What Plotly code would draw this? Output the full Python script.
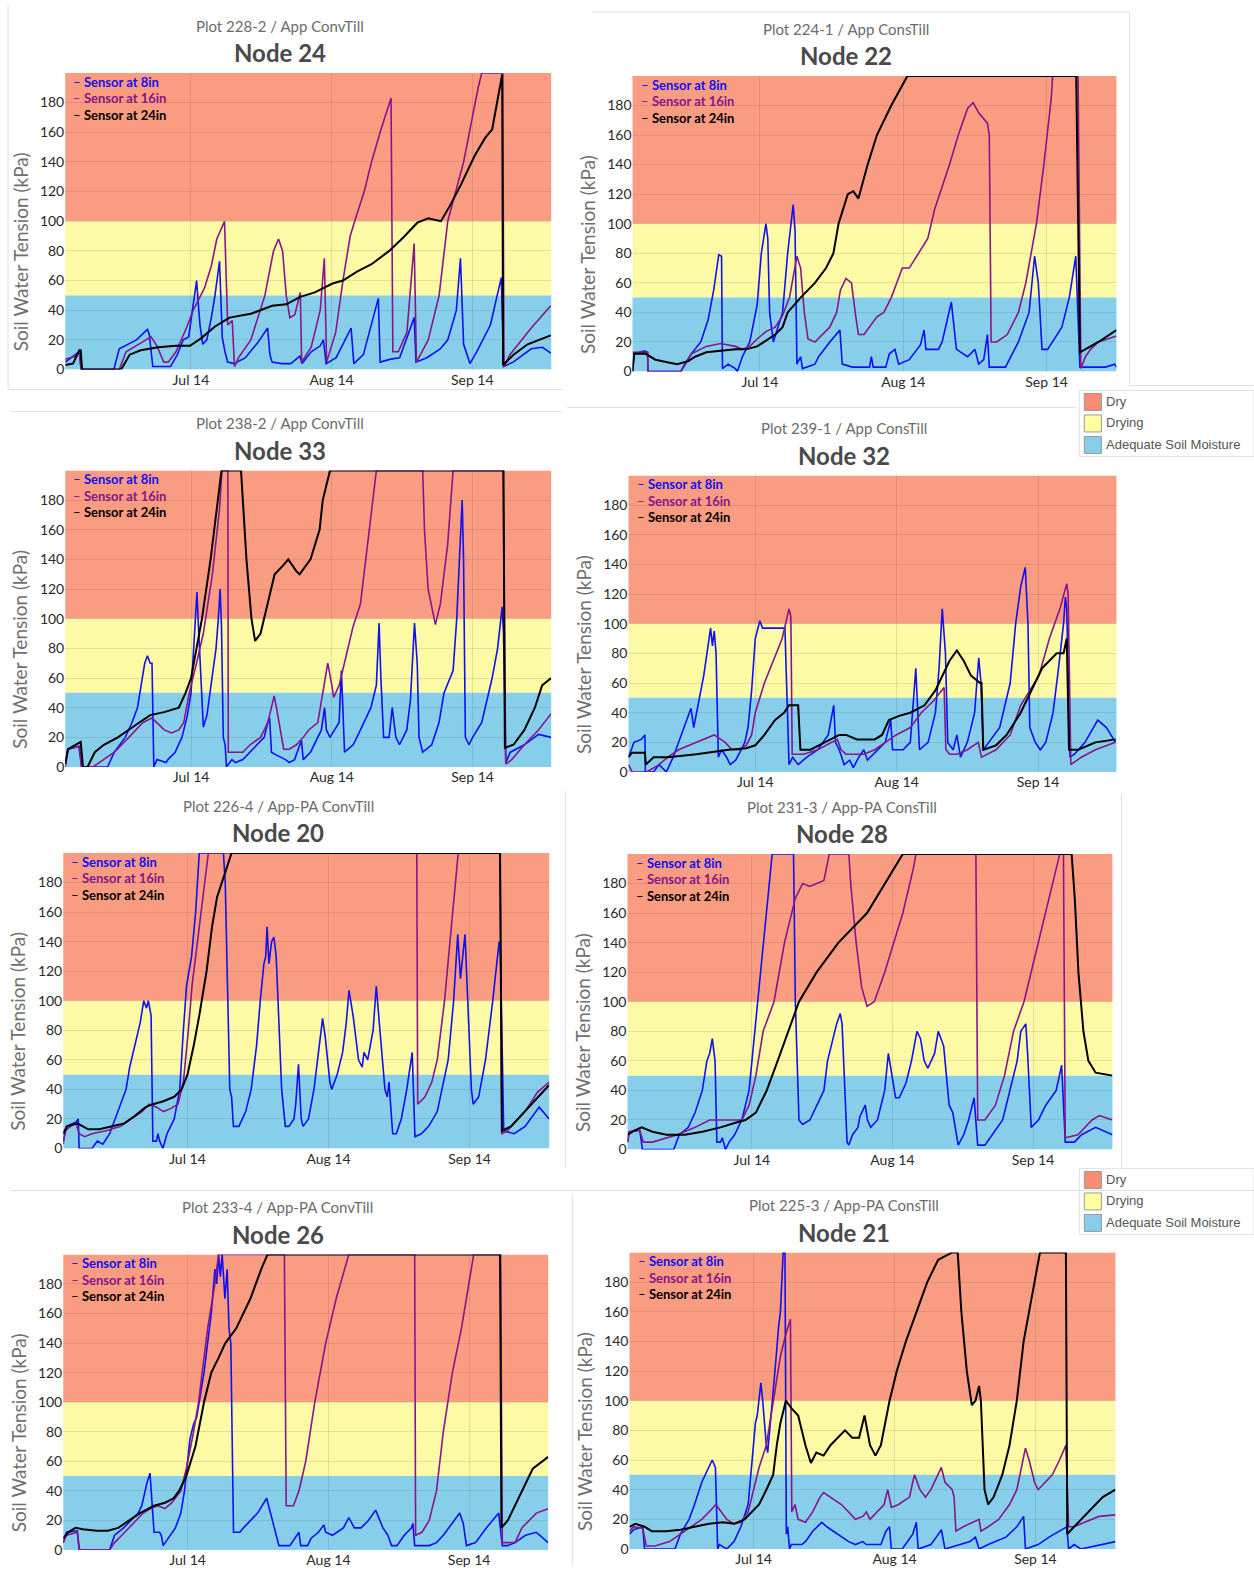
import pandas as pd
import plotly.graph_objects as go

# ---------------- data (days relative to Jul 14, kPa) ----------------
BASE_DATE = "2017-07-14"
TICK_DAYS = [0, 31, 62]
TICK_TEXT = ["Jul 14", "Aug 14", "Sep 14"]
Y_TICKS = [0, 20, 40, 60, 80, 100, 120, 140, 160, 180]
SENSORS = ["Sensor at 8in", "Sensor at 16in", "Sensor at 24in"]
SENSOR_COLORS = ["#1010f0", "#86168a", "#000000"]
ZONE_NAMES = ["Dry", "Drying", "Adequate Soil Moisture"]
ZONE_LIMITS = [(100, 200), (50, 100), (0, 50)]
ZONE_COLORS = ["#f99c81", "#fdfaa5", "#87ceea"]
SWATCH_COLORS = ["#fa8c74", "#ffff9e", "#86cdea"]

SUBTITLES = ["Plot 228-2 / App ConvTill", "Plot 224-1 / App ConsTill",
             "Plot 238-2 / App ConvTill", "Plot 239-1 / App ConsTill",
             "Plot 226-4 / App-PA ConvTill", "Plot 231-3 / App-PA ConsTill",
             "Plot 233-4 / App-PA ConvTill", "Plot 225-3 / App-PA ConsTill"]
NODES = ["Node 24", "Node 22", "Node 33", "Node 32", "Node 20", "Node 28", "Node 26", "Node 21"]
X_RANGES = [(-27.7, 79.4), (-27.55, 77.1), (-27.7, 79.3), (-27.8, 79.2),
            (-27.3, 79.5), (-27.4, 79.5), (-27.4, 79.4), (-27.3, 79.6)]

N24_8 = [(-27.7,5),(-25.5,10),(-24.6,12),(-24.2,0),(-17.0,0),(-15.8,14),(-14.5,16),(-12.0,20),(-9.6,27),(-9.2,24),(-8.4,2),(-4.5,2),(-3.0,10),(-1.7,20),(-0.5,22),(0.3,40),(1.25,60),(1.6,45),(2.0,30),(2.6,17),(3.5,20),(4.5,35),(5.3,50),(6.3,73),(6.9,22),(7.5,12),(8.1,5),(9.5,4),(12.0,8),(14.7,18),(16.9,28),(17.4,10),(17.9,5),(20.0,4),(22.0,4),(24.0,9),(24.5,4),(26.5,12),(28.5,16),(29.2,20),(29.8,4),(32.0,8),(35.3,28),(35.9,4),(38.0,10),(41.3,48),(41.7,5),(44.0,7),(46.0,8),(49.2,35),(49.6,5),(52.0,8),(55.0,14),(56.6,20),(58.5,40),(59.4,75),(60.1,17),(61.5,4),(63.0,12),(66.0,30),(68.4,62),(68.9,2),(71.0,5),(75.0,14),(77.5,15),(79.3,11)]
N24_16 = [(-27.7,7),(-25.5,9),(-24.6,12),(-24.2,0),(-15.8,0),(-14.3,12),(-11.0,18),(-8.8,22),(-7.5,16),(-6.0,5),(-5.0,5),(-3.3,12),(-1.0,28),(0.5,40),(3.0,55),(4.5,70),(5.7,88),(7.4,100),(7.8,60),(8.1,30),(9.1,33),(9.6,2),(10.5,8),(13.2,20),(16.3,50),(18.2,80),(19.3,88),(20.2,80),(21.0,50),(21.8,35),(22.9,37),(23.5,45),(24.1,52),(24.4,5),(26.5,15),(28.5,40),(29.4,75),(29.9,5),(31.9,25),(33.5,60),(35.1,90),(36.6,105),(38.2,120),(39.8,140),(41.7,160),(44.1,183),(44.5,12),(45.7,12),(47.6,25),(49.2,85),(49.7,5),(52.3,20),(54.7,50),(56.6,100),(60.1,140),(63.3,190),(64.1,200),(68.7,200),(69.0,2),(70.3,10),(75.0,28),(79.3,43)]
N24_24 = [(-27.7,3),(-26.0,4),(-24.6,13),(-24.3,13),(-24.0,0),(-15.4,0),(-13.5,10),(-11.1,13),(-7.2,15),(-3.3,16),(-0.2,16),(2.2,21),(5.3,29),(8.5,35),(13.2,37.6),(17.9,43),(21.0,44),(24.1,49),(27.3,52),(31.2,58),(33.5,60),(36.6,66),(39.8,71),(43.7,80),(46.8,89),(49.9,99),(52.3,102),(55.1,100),(57.0,110),(59.4,124),(62.5,144),(64.8,156),(66.4,162),(68.0,190),(68.6,199),(68.8,3),(71.1,10),(74.2,17),(79.3,23)]

N22_8 = [(-27.55,0),(-27.2,12),(-25.0,14),(-24.3,13),(-24.2,0),(-17.1,0),(-14.8,12),(-12.8,20),(-11.2,35),(-10.0,55),(-8.9,79),(-8.3,78),(-8.1,2),(-6.9,5),(-5.3,2),(-4.9,0),(-3.8,10),(-2.2,20),(-0.6,45),(0.3,80),(1.3,100),(1.7,90),(2.1,40),(2.9,20),(4.9,40),(6.0,80),(7.2,113),(7.6,95),(8.0,5),(8.8,10),(9.2,2),(11.9,5),(12.7,10),(15.1,20),(17.3,28),(17.8,5),(20.0,3),(23.7,3),(24.1,10),(24.5,3),(27.2,3),(28.0,12),(29.2,15),(30.0,5),(32.3,8),(34.7,18),(35.5,28),(35.9,15),(38.6,15),(39.4,20),(41.4,47),(42.5,15),(44.9,10),(46.5,15),(47.3,5),(48.4,8),(49.2,25),(49.6,3),(53.1,3),(55.9,20),(58.2,40),(59.4,78),(60.2,60),(61.0,15),(62.2,15),(65.3,30),(66.9,50),(68.3,78),(69.2,3),(74.7,3),(76.7,5),(77.1,3)]
N22_16 = [(-27.55,13),(-24.3,13),(-24.2,0),(-17.1,0),(-16.3,5),(-14.8,12),(-11.6,17),(-8.5,19),(-5.3,17),(-3.8,15),(-2.2,17),(-0.6,22),(1.3,27),(3.3,30),(4.9,38),(6.4,50),(8.0,78),(8.8,70),(9.6,40),(10.4,22),(11.9,20),(13.5,25),(15.1,30),(16.6,40),(17.4,55),(18.6,63),(19.8,60),(20.6,40),(21.3,25),(22.5,25),(23.7,30),(25.3,37),(26.8,40),(28.4,50),(29.6,60),(30.8,70),(32.3,70),(33.9,78),(36.3,90),(37.8,110),(41.0,140),(42.9,160),(44.9,178),(46.1,182),(47.3,175),(49.2,168),(49.6,160),(50.0,20),(51.2,20),(53.5,25),(55.9,40),(57.5,60),(59.8,100),(61.4,140),(63.0,185),(63.3,200),(68.8,200),(69.4,2),(70.4,10),(71.5,15),(73.2,20),(77.1,24)]
N22_24 = [(-27.55,0),(-27.2,12),(-24.7,12),(-22.6,8),(-19.5,6),(-17.9,5),(-15.5,7),(-14.0,10),(-11.6,13),(-8.5,14),(-5.3,15),(-3.0,15),(-0.6,17),(0.9,20),(3.3,25),(4.9,30),(6.0,40),(8.8,50),(11.9,60),(14.3,70),(15.9,80),(17.0,100),(19.0,120),(20.2,122),(21.3,117),(23.3,140),(25.3,160),(28.4,180),(31.9,200),(68.4,200),(69.2,13),(73.2,20),(77.1,28)]

N33_8 = [(-27.7,3),(-27.1,12),(-24.7,14),(-24.1,0),(-18.4,0),(-16.9,10),(-14.5,20),(-13.0,30),(-11.8,40),(-11.0,55),(-10.2,70),(-9.6,75),(-9.0,70),(-8.6,70),(-8.2,0),(-7.5,5),(-5.5,3),(-5.1,5),(-3.5,10),(-2.0,20),(-0.8,35),(0.0,50),(1.0,100),(1.3,118),(1.7,90),(2.4,40),(2.7,27),(3.5,35),(4.7,60),(5.5,80),(6.0,100),(6.4,120),(6.7,95),(7.1,20),(7.5,15),(7.8,0),(9.0,5),(9.8,3),(11.4,5),(13.0,10),(14.5,15),(16.1,20),(16.9,30),(17.3,33),(17.7,10),(18.8,8),(20.8,5),(21.6,3),(22.8,5),(23.9,15),(24.3,18),(24.7,5),(26.3,10),(28.7,25),(29.4,40),(29.8,25),(30.6,20),(32.6,30),(33.1,65),(33.8,10),(35.7,15),(37.3,25),(39.6,40),(40.8,55),(41.4,97),(41.8,60),(42.4,20),(43.6,20),(43.9,30),(44.3,40),(45.1,20),(45.9,15),(47.5,25),(48.3,45),(49.2,97),(49.8,70),(50.2,20),(51.0,10),(53.0,15),(54.6,30),(55.7,50),(57.7,65),(58.5,100),(59.7,180),(60.0,140),(60.4,20),(61.2,15),(62.0,20),(64.0,30),(66.3,60),(67.5,80),(68.5,108),(68.8,90),(69.3,3),(70.3,10),(73.4,15),(76.5,22),(79.3,20)]
N33_16 = [(-27.7,0),(-27.1,12),(-24.6,14),(-24.1,0),(-21.6,0),(-19.2,5),(-16.9,10),(-13.7,20),(-10.6,30),(-8.6,33),(-7.5,30),(-5.9,25),(-4.3,23),(-2.7,25),(-1.6,30),(-0.4,50),(1.2,70),(2.7,90),(4.7,130),(6.3,175),(6.8,200),(8.1,200),(8.2,10),(11.4,10),(13.0,15),(15.3,20),(16.9,30),(18.3,48),(18.8,40),(19.6,25),(20.4,12),(21.6,12),(23.2,15),(24.7,20),(25.9,25),(27.9,30),(29.0,50),(30.1,70),(31.0,55),(31.4,47),(32.6,55),(34.5,80),(35.7,95),(37.3,110),(38.9,150),(40.8,200),(51.0,200),(51.4,160),(52.2,120),(53.4,100),(53.8,96),(54.9,110),(56.5,150),(57.7,200),(68.7,200),(69.3,2),(70.6,5),(73.4,15),(76.5,25),(79.3,36)]
N33_24 = [(-27.7,2),(-27.1,12),(-24.3,17),(-23.8,0),(-22.8,0),(-21.2,10),(-19.2,15),(-16.1,20),(-11.4,30),(-9.0,35),(-5.9,37),(-2.7,40),(-1.2,50),(0.0,60),(1.2,80),(2.4,100),(4.3,140),(5.9,180),(6.7,200),(11.0,200),(11.4,180),(12.2,140),(13.3,100),(14.1,85),(15.3,90),(16.9,110),(18.4,130),(20.0,135),(21.4,140),(23.2,132),(23.9,130),(26.3,140),(28.3,160),(29.0,180),(30.6,200),(68.8,200),(69.1,13),(71.0,15),(73.4,25),(75.7,40),(77.3,55),(79.3,60)]

N32_8 = [(-27.8,10),(-26.6,20),(-25.0,22),(-24.2,25),(-24.1,0),(-22.3,0),(-21.1,5),(-19.5,0),(-18.0,10),(-16.8,20),(-15.6,30),(-14.5,40),(-14.1,43),(-13.5,30),(-12.9,40),(-11.7,60),(-11.3,65),(-10.6,80),(-9.8,97),(-9.4,85),(-9.0,95),(-8.6,80),(-8.1,10),(-7.4,15),(-6.3,10),(-5.5,5),(-4.3,8),(-3.1,15),(-2.3,20),(-1.6,30),(-0.8,55),(0.0,90),(0.4,95),(1.0,102),(1.6,97),(6.5,97),(7.4,5),(8.2,10),(9.4,5),(11.3,10),(13.7,15),(16.0,25),(17.2,45),(17.6,20),(18.4,15),(19.5,5),(20.7,8),(21.5,3),(22.7,10),(23.8,15),(24.6,8),(27.0,15),(28.5,20),(29.7,35),(30.1,15),(32.4,15),(34.0,20),(35.2,70),(36.0,15),(37.9,20),(39.5,40),(40.3,70),(41.0,110),(41.7,80),(42.2,20),(43.4,15),(44.2,25),(45.0,10),(46.5,20),(48.1,40),(49.0,77),(49.5,60),(50.0,15),(51.2,20),(53.6,30),(55.9,60),(57.1,100),(58.2,125),(59.2,138),(59.8,100),(60.2,30),(61.4,20),(62.5,15),(63.7,20),(65.3,40),(66.5,70),(67.6,100),(68.0,118),(68.3,110),(69.0,10),(70.0,12),(72.3,20),(75.1,35),(77.0,30),(79.0,20)]
N32_16 = [(-27.8,5),(-27.0,0),(-23.8,0),(-21.1,5),(-19.2,10),(-16.8,15),(-12.9,20),(-11.3,22),(-9.0,25),(-6.6,20),(-5.1,15),(-3.5,15),(-2.0,18),(-0.8,25),(0.0,40),(2.0,60),(5.9,90),(7.4,110),(7.8,105),(8.1,12),(10.6,12),(13.7,15),(16.8,20),(18.0,22),(18.8,15),(19.9,12),(23.8,12),(26.2,15),(28.5,20),(30.9,25),(34.0,30),(36.4,40),(39.1,48),(41.4,57),(41.8,15),(42.6,12),(44.2,12),(46.5,15),(48.9,20),(49.6,10),(52.8,15),(55.9,25),(58.2,45),(62.2,65),(64.5,90),(66.8,110),(68.3,127),(68.6,120),(69.2,5),(71.5,10),(74.6,15),(79.0,20)]
N32_24 = [(-27.8,10),(-27.0,13),(-24.2,13),(-24.0,5),(-22.3,10),(-19.2,10),(-12.9,12),(-5.9,15),(-2.0,16),(0.0,18),(2.0,25),(4.3,35),(6.3,40),(7.4,45),(9.4,45),(9.9,15),(12.1,15),(15.2,20),(18.4,25),(19.9,25),(22.3,22),(26.2,22),(27.8,25),(29.3,35),(31.7,38),(34.0,40),(37.1,45),(39.5,55),(41.0,65),(42.6,75),(44.2,82),(45.7,75),(47.3,65),(49.3,60),(49.6,60),(50.0,15),(52.8,18),(55.1,25),(58.2,40),(60.6,55),(62.9,70),(66.1,80),(67.6,80),(68.3,90),(68.8,15),(70.8,15),(74.6,20),(79.0,22)]

N20_8 = [(-27.3,5),(-26.5,15),(-24.5,18),(-24.0,20),(-23.8,0),(-21.0,0),(-19.8,5),(-18.6,3),(-17.1,10),(-15.9,20),(-14.7,30),(-13.5,40),(-12.7,55),(-11.6,70),(-10.4,85),(-9.6,100),(-9.0,95),(-8.6,100),(-8.0,90),(-7.6,5),(-6.8,5),(-6.5,10),(-6.1,5),(-5.4,0),(-4.5,10),(-2.9,20),(-1.7,40),(-0.9,80),(-0.2,110),(0.9,130),(1.8,160),(2.6,200),(7.9,200),(8.3,180),(8.7,120),(9.3,40),(9.7,35),(10.1,15),(11.3,15),(12.0,20),(12.8,25),(14.0,40),(15.2,70),(16.0,100),(16.8,125),(17.2,130),(17.5,150),(17.9,125),(18.5,140),(19.0,143),(19.5,130),(19.9,100),(20.7,40),(21.5,15),(22.3,15),(23.4,20),(23.8,30),(24.4,57),(25.0,20),(25.4,15),(26.6,20),(27.8,40),(29.0,70),(29.7,88),(30.3,75),(31.3,45),(31.7,40),(32.9,50),(34.1,65),(34.9,85),(35.5,107),(36.4,90),(37.6,60),(38.4,55),(38.8,65),(39.6,60),(40.8,80),(41.5,110),(42.3,80),(43.4,40),(43.9,35),(44.3,45),(45.1,10),(45.9,10),(47.0,20),(48.2,40),(49.4,65),(50.0,8),(51.4,10),(53.0,15),(54.9,25),(57.3,60),(58.5,100),(59.4,145),(60.0,115),(61.0,145),(61.6,100),(62.4,40),(62.8,30),(64.0,35),(65.5,60),(67.1,100),(68.5,140),(68.8,130),(69.5,12),(71.8,10),(74.2,15),(77.3,28),(79.5,20)]
N20_16 = [(-27.3,3),(-26.9,12),(-25.7,15),(-24.5,17),(-23.8,10),(-22.6,8),(-21.0,10),(-17.9,12),(-14.7,15),(-12.4,20),(-10.0,25),(-8.4,30),(-6.8,28),(-5.3,25),(-3.7,27),(-2.1,30),(-0.9,45),(0.2,80),(1.0,110),(2.6,150),(4.6,200),(50.4,200),(50.6,30),(52.2,35),(53.7,45),(54.9,60),(56.5,100),(57.7,140),(58.9,180),(59.5,200),(68.7,200),(69.1,10),(70.3,12),(74.2,25),(76.9,38),(79.5,45)]
N20_24 = [(-27.3,10),(-26.5,15),(-24.2,17),(-21.8,13),(-19.4,13),(-16.3,15),(-13.9,17),(-11.6,22),(-9.2,28),(-7.6,30),(-5.3,32),(-2.9,35),(-1.3,40),(0.0,50),(1.4,70),(2.6,90),(4.2,120),(5.4,150),(6.5,170),(8.1,185),(9.7,200),(68.7,200),(69.1,12),(71.1,15),(72.6,20),(75.8,30),(79.5,43)]

N28_8 = [(-27.4,5),(-27.0,12),(-24.7,13),(-24.1,0),(-17.2,0),(-16.0,10),(-14.0,15),(-12.5,25),(-10.9,40),(-9.9,60),(-9.3,65),(-8.7,75),(-8.1,60),(-7.7,5),(-6.9,5),(-6.5,8),(-5.8,0),(-5.0,5),(-3.8,10),(-2.2,20),(-0.6,40),(0.6,75),(1.3,100),(2.9,150),(4.1,190),(4.5,200),(9.2,200),(9.6,100),(10.4,20),(11.2,17),(12.8,20),(14.3,30),(15.9,40),(16.7,60),(17.9,75),(18.7,85),(19.5,92),(19.9,85),(21.0,5),(21.4,3),(22.2,10),(23.4,15),(23.8,22),(25.0,30),(25.5,20),(26.2,15),(27.7,20),(29.3,40),(30.1,65),(30.9,50),(31.7,35),(32.5,35),(34.0,45),(35.2,60),(36.4,80),(37.2,75),(38.0,60),(38.8,55),(40.3,65),(41.1,80),(42.3,70),(43.5,30),(44.3,25),(45.5,3),(46.7,10),(47.8,20),(49.0,35),(49.8,3),(51.4,3),(53.0,10),(55.3,20),(56.9,40),(58.5,60),(59.3,80),(60.4,85),(60.8,65),(61.6,15),(63.2,20),(64.8,30),(67.1,40),(68.3,57),(69.1,5),(71.1,5),(72.7,10),(75.8,15),(79.5,10)]
N28_16 = [(-27.4,5),(-27.0,12),(-24.7,13),(-23.9,5),(-21.9,5),(-18.8,8),(-16.4,10),(-12.5,15),(-9.3,20),(-6.9,20),(-3.8,20),(-2.2,20),(-0.6,30),(0.9,50),(2.5,80),(4.9,100),(7.2,140),(9.6,170),(11.2,180),(12.8,178),(15.9,182),(17.1,200),(21.4,200),(21.8,180),(23.0,140),(24.2,110),(25.4,97),(27.0,100),(29.3,120),(33.3,160),(35.6,190),(36.2,200),(49.4,200),(49.8,20),(51.4,20),(53.7,30),(55.7,50),(57.7,80),(60.0,100),(63.2,140),(66.4,180),(67.9,200),(68.7,200),(69.1,8),(71.9,10),(75.0,20),(76.6,23),(79.5,20)]
N28_24 = [(-27.4,10),(-25.8,13),(-24.3,15),(-21.9,12),(-18.8,10),(-14.8,10),(-10.9,12),(-6.9,15),(-3.8,18),(-1.4,20),(0.9,25),(3.3,40),(5.7,60),(8.0,80),(10.4,100),(14.3,120),(19.1,140),(25.4,160),(29.3,180),(33.3,200),(70.5,200),(71.2,170),(72.0,120),(73.1,80),(74.2,60),(75.8,52),(79.5,50)]

N26_8 = [(-27.4,5),(-26.7,12),(-24.3,13),(-23.9,0),(-17.2,0),(-16.1,10),(-14.1,15),(-12.5,20),(-10.9,25),(-10.1,30),(-9.0,45),(-8.3,52),(-7.8,30),(-7.4,12),(-6.2,12),(-5.8,10),(-5.4,3),(-4.2,8),(-2.7,15),(-1.5,25),(-0.7,40),(0.5,75),(1.3,85),(2.0,90),(3.6,120),(5.2,160),(6.0,190),(6.4,180),(6.8,200),(7.2,185),(7.6,200),(8.2,170),(8.7,190),(9.1,150),(9.5,140),(10.1,12),(11.5,12),(12.3,15),(13.8,20),(15.4,25),(17.4,35),(18.6,20),(19.4,10),(20.1,3),(22.5,3),(23.7,8),(24.5,12),(24.9,3),(26.4,3),(27.2,8),(28.8,12),(30.0,17),(30.4,12),(31.9,10),(34.3,15),(35.5,22),(36.7,15),(38.2,15),(39.8,20),(41.4,27),(43.0,15),(44.1,10),(44.9,3),(46.1,3),(47.7,10),(49.3,15),(49.6,18),(50.0,3),(53.2,3),(54.8,5),(56.3,10),(58.7,20),(59.9,25),(60.7,18),(61.4,3),(63.4,5),(65.8,15),(68.5,25),(69.3,3),(70.5,3),(72.1,5),(74.4,10),(76.8,12),(79.4,5)]
N26_16 = [(-27.4,5),(-26.7,10),(-24.3,12),(-23.8,0),(-17.2,0),(-16.1,5),(-14.5,10),(-12.9,15),(-11.3,20),(-9.8,25),(-8.2,28),(-6.6,30),(-5.0,28),(-3.5,32),(-1.5,40),(-0.3,55),(1.3,80),(2.4,100),(4.4,150),(6.0,180),(6.8,200),(21.3,200),(21.7,30),(23.3,30),(24.5,40),(26.0,60),(28.0,100),(30.4,140),(32.7,170),(35.5,200),(50.0,200),(50.2,10),(51.6,12),(53.2,20),(54.8,40),(56.3,80),(58.3,120),(60.3,150),(63.0,200),(68.9,200),(69.3,5),(72.1,5),(73.6,15),(76.8,25),(79.4,28)]
N26_24 = [(-27.4,8),(-26.3,12),(-24.7,15),(-23.1,14),(-20.0,13),(-17.6,13),(-15.3,15),(-12.9,20),(-10.5,25),(-7.4,30),(-5.0,32),(-3.1,35),(-1.9,40),(-0.3,50),(1.7,70),(3.6,100),(5.2,120),(6.8,130),(8.3,140),(10.7,150),(13.8,170),(16.2,190),(17.6,200),(68.8,200),(69.1,15),(70.5,20),(73.6,40),(76.0,55),(79.4,63)]

N21_8 = [(-27.3,10),(-26.4,13),(-24.4,15),(-24.0,0),(-17.3,0),(-16.1,10),(-14.2,20),(-13.0,30),(-11.4,45),(-9.8,55),(-9.1,60),(-8.4,55),(-7.9,0),(-7.5,3),(-5.9,0),(-4.3,5),(-2.8,15),(-1.2,30),(-0.4,60),(0.4,85),(0.8,90),(1.6,112),(2.0,100),(2.8,70),(3.1,65),(3.9,90),(4.7,120),(5.5,150),(5.9,160),(6.5,200),(6.9,200),(7.2,10),(7.5,15),(7.9,0),(8.3,3),(10.6,3),(11.4,5),(13.0,12),(15.0,18),(16.1,15),(18.5,10),(20.9,5),(22.4,3),(24.0,5),(24.8,3),(28.0,3),(29.1,12),(29.9,15),(30.3,0),(32.7,0),(35.0,10),(35.8,18),(36.2,0),(39.0,3),(40.2,8),(41.3,13),(42.1,0),(45.3,3),(47.6,5),(48.8,8),(49.6,0),(51.6,3),(55.5,8),(57.9,15),(59.4,22),(59.8,0),(62.6,3),(65.0,8),(67.3,12),(68.9,15),(69.3,0),(70.5,3),(72.0,0),(76.8,3),(79.6,5)]
N21_16 = [(-27.3,12),(-26.4,15),(-24.4,14),(-23.6,2),(-21.7,2),(-18.5,5),(-16.1,10),(-13.8,15),(-11.4,20),(-9.8,25),(-8.3,30),(-7.1,25),(-5.9,20),(-4.3,17),(-2.8,18),(-1.2,25),(0.0,40),(1.2,55),(2.8,70),(4.3,100),(5.9,130),(7.1,145),(8.1,155),(8.4,25),(9.1,30),(9.8,20),(11.4,18),(13.0,25),(14.6,35),(15.4,38),(16.9,35),(19.3,30),(20.9,25),(22.4,20),(24.0,22),(24.8,25),(25.6,20),(27.2,25),(28.7,30),(29.5,40),(30.3,28),(31.9,30),(34.3,35),(35.0,45),(35.4,50),(36.6,40),(37.8,35),(39.0,40),(40.6,50),(41.3,55),(42.1,45),(43.7,40),(44.1,35),(44.5,12),(46.1,15),(48.4,18),(49.6,20),(50.0,12),(51.6,15),(53.9,20),(56.3,30),(57.9,40),(59.8,68),(60.6,60),(61.8,45),(62.6,40),(64.2,45),(65.7,50),(67.3,60),(68.7,70),(69.3,15),(70.5,15),(72.8,18),(76.0,22),(79.6,23)]
N21_24 = [(-27.3,15),(-26.0,17),(-24.0,15),(-22.4,12),(-19.3,12),(-16.1,13),(-13.0,15),(-9.8,17),(-6.7,18),(-4.3,17),(-2.0,20),(-0.4,25),(1.2,30),(2.8,40),(4.3,50),(5.1,70),(5.9,85),(7.1,100),(8.3,95),(9.8,90),(11.4,70),(12.6,58),(13.8,65),(15.4,63),(16.9,70),(18.5,75),(20.1,80),(21.7,75),(23.2,75),(24.4,90),(25.6,70),(26.8,63),(28.0,70),(29.9,100),(31.5,120),(33.5,140),(35.8,160),(38.2,180),(40.6,195),(43.7,200),(44.9,200),(45.7,160),(46.9,120),(48.0,97),(48.8,100),(49.6,110),(50.0,100),(50.8,40),(51.6,30),(52.8,35),(54.7,50),(56.3,70),(57.9,100),(59.4,140),(61.8,180),(63.0,200),(68.7,200),(69.0,10),(70.5,15),(73.6,25),(76.8,35),(79.6,40)]

PANEL_SERIES = [
    (N24_8, N24_16, N24_24), (N22_8, N22_16, N22_24),
    (N33_8, N33_16, N33_24), (N32_8, N32_16, N32_24),
    (N20_8, N20_16, N20_24), (N28_8, N28_16, N28_24),
    (N26_8, N26_16, N26_24), (N21_8, N21_16, N21_24),
]

# ---------------- layout (reference pixel boxes: left, right, top, bottom) ----------------
RW, RH = 1249.0, 1568.0
BOXES = [(65, 549, 73, 370), (630, 1112, 76, 372),
         (65, 549, 471, 768), (626, 1112, 476, 773),
         (63, 547, 854, 1150), (625, 1108, 855, 1151),
         (63, 546, 1256, 1552), (627, 1111, 1254, 1551)]
LEGEND_BOXES = [(1075, 391), (1075, 1170)]

base = pd.Timestamp(BASE_DATE)


def to_date(day):
    return (base + pd.Timedelta(days=day)).strftime("%Y-%m-%d %H:%M:%S")


def fx(x):
    return x / RW


def fy(y):
    return 1 - y / RH


FONT = "Lato, 'Open Sans', Arial, sans-serif"
fig = go.Figure()
layout = {}
shapes = []
annotations = []

for i in range(8):
    l, r, t, b = BOXES[i]
    sfx = "" if i == 0 else str(i + 1)
    xr, yr = "x" + sfx, "y" + sfx
    for s in range(3):
        pts = PANEL_SERIES[i][s]
        fig.add_trace(go.Scatter(
            x=[to_date(p[0]) for p in pts], y=[p[1] for p in pts],
            mode="lines", name=SENSORS[s], showlegend=False,
            line=dict(color=SENSOR_COLORS[s], width=2.0 if s == 2 else 1.6),
            xaxis=xr, yaxis=yr, hoverinfo="skip"))
    layout["xaxis" + sfx] = dict(
        domain=[fx(l), fx(r)], anchor=yr, type="date",
        range=[to_date(X_RANGES[i][0]), to_date(X_RANGES[i][1])],
        tickvals=[to_date(d) for d in TICK_DAYS], ticktext=TICK_TEXT,
        showgrid=True, gridcolor="rgba(60,60,60,0.13)", gridwidth=1,
        zeroline=False, showline=False, ticks="",
        tickfont=dict(family=FONT, size=14, color="#2a2a2a"), fixedrange=True)
    layout["yaxis" + sfx] = dict(
        domain=[fy(b), fy(t)], anchor=xr, range=[0, 200],
        tickvals=Y_TICKS, showgrid=True, gridcolor="rgba(60,60,60,0.13)",
        zeroline=False, showline=False, ticks="",
        tickfont=dict(family=FONT, size=14, color="#2a2a2a"), fixedrange=True)
    for z in range(3):
        y0, y1 = ZONE_LIMITS[z]
        shapes.append(dict(type="rect", xref=xr + " domain", yref=yr,
                           x0=0, x1=1, y0=y0, y1=y1, fillcolor=ZONE_COLORS[z],
                           line=dict(width=0), layer="below"))
    cx = (l + r) / 2 - 28
    annotations.append(dict(x=fx(cx), y=fy(t - 47), xref="paper", yref="paper",
                            text=SUBTITLES[i], showarrow=False,
                            font=dict(family=FONT, size=15, color="#6b6b6b"),
                            xanchor="center", yanchor="middle"))
    annotations.append(dict(x=fx(cx), y=fy(t - 20), xref="paper", yref="paper",
                            text="<b>" + NODES[i] + "</b>", showarrow=False,
                            font=dict(family=FONT, size=24, color="#4a4a4a"),
                            xanchor="center", yanchor="middle"))
    annotations.append(dict(x=fx(l - 45), y=fy((t + b) / 2 + 31), xref="paper", yref="paper",
                            text="Soil Water Tension (kPa)", showarrow=False, textangle=-90,
                            font=dict(family=FONT, size=19, color="#707070"),
                            xanchor="center", yanchor="middle"))
    for s in range(3):
        annotations.append(dict(x=fx(l + 6), y=fy(t + 9 + 16.5 * s), xref="paper", yref="paper",
                                text="– <b>" + SENSORS[s] + "</b>", showarrow=False,
                                font=dict(family=FONT, size=13, color=SENSOR_COLORS[s]),
                                xanchor="left", yanchor="middle"))

# zone legends on the right
for (lx, ly) in LEGEND_BOXES:
    shapes.append(dict(type="rect", xref="paper", yref="paper",
                       x0=fx(lx), x1=fx(1249), y0=fy(ly + 66), y1=fy(ly),
                       fillcolor="white", line=dict(color="#e3e3e3", width=1)))
    for k in range(3):
        sy = ly + 3 + 21.5 * k
        shapes.append(dict(type="rect", xref="paper", yref="paper",
                           x0=fx(lx + 5), x1=fx(lx + 22), y0=fy(sy + 17), y1=fy(sy),
                           fillcolor=SWATCH_COLORS[k], line=dict(color="#9a9a9a", width=1)))
        annotations.append(dict(x=fx(lx + 25), y=fy(sy + 8), xref="paper", yref="paper",
                                text=ZONE_NAMES[k], showarrow=False,
                                font=dict(family="Liberation Sans, Arial, sans-serif", size=13, color="#555555"),
                                xanchor="left", yanchor="middle"))

# faint screenshot frame lines
FRAME_LINES = [(8, 5, 8, 390), (8, 390, 560, 390), (590, 12, 1125, 12), (1125, 12, 1125, 385),
               (1125, 386, 1249, 386), (10, 412, 560, 412), (565, 408, 1072, 408),
               (563, 792, 563, 1170), (1117, 795, 1117, 1170), (10, 1192, 1249, 1192),
               (570, 1196, 570, 1568)]
for (x0, y0, x1, y1) in FRAME_LINES:
    shapes.append(dict(type="line", xref="paper", yref="paper",
                       x0=fx(x0), y0=fy(y0), x1=fx(x1), y1=fy(y1),
                       line=dict(color="#e0e0e0", width=1)))

fig.update_layout(width=1254, height=1574, margin=dict(l=0, r=0, t=0, b=0),
                  paper_bgcolor="white", plot_bgcolor="white",
                  shapes=shapes, annotations=annotations, **layout)
fig.write_html("out.html", config={"displayModeBar": False},
               post_script="document.body.style.margin='0px';document.body.style.overflow='hidden';")
